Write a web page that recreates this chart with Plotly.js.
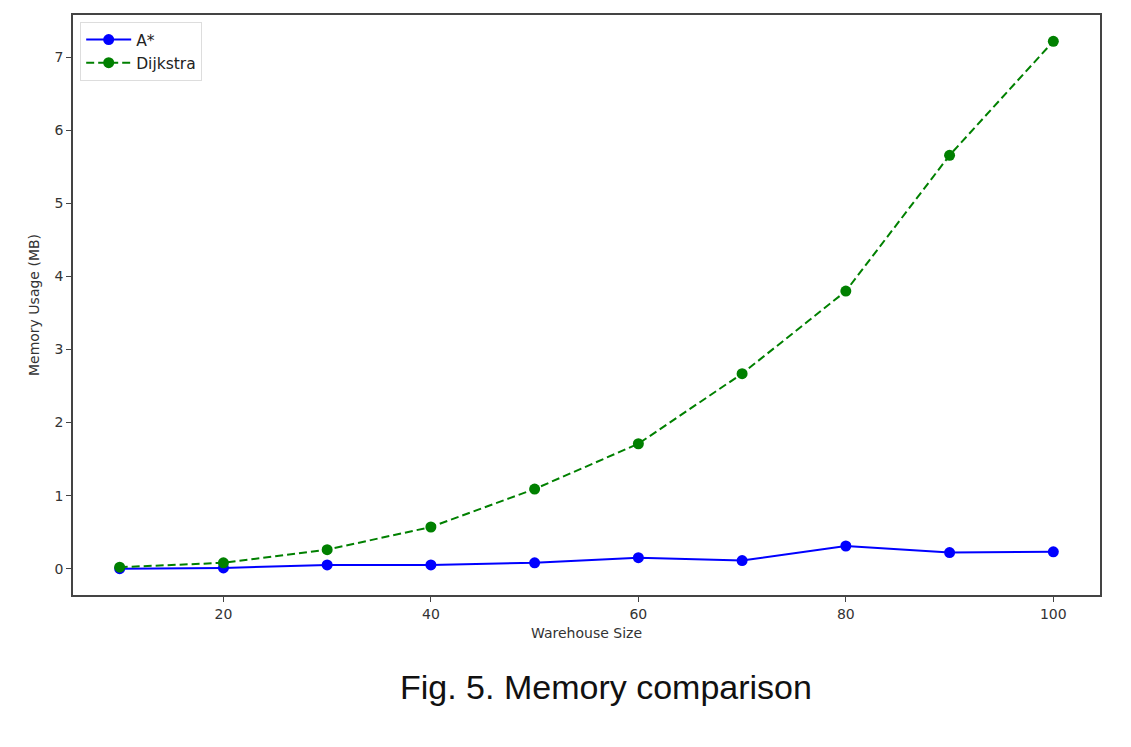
<!DOCTYPE html>
<html>
<head>
<meta charset="utf-8">
<script src="https://cdn.plot.ly/plotly-3.0.1.min.js"></script>
<style>html,body{margin:0;padding:0;background:#fff;}#chart{width:1131px;height:747px;}</style>
</head>
<body>
<div id="chart"></div>
<script>
const warehouseSizes = [10, 20, 30, 40, 50, 60, 70, 80, 90, 100];
const astarMemory = [0.00, 0.01, 0.05, 0.05, 0.08, 0.15, 0.11, 0.31, 0.22, 0.23];
const dijkstraMemory = [0.02, 0.08, 0.26, 0.57, 1.09, 1.71, 2.67, 3.80, 5.66, 7.22];
const xTicks = [20, 40, 60, 80, 100];
const yTicks = [0, 1, 2, 3, 4, 5, 6, 7];

const traces = [
  {x: warehouseSizes, y: astarMemory, name: 'A*', mode: 'lines+markers',
   line: {color: '#0000ff', width: 2}, marker: {color: '#0000ff', size: 11}},
  {x: warehouseSizes, y: dijkstraMemory, name: 'Dijkstra', mode: 'lines+markers',
   line: {color: '#008000', width: 2, dash: '8px,4px'}, marker: {color: '#008000', size: 11}}
];

const axisFont = {family: 'DejaVu Sans', size: 14, color: '#333'};
const layout = {
  width: 1131, height: 747,
  margin: {l: 73, r: 31, t: 15, b: 152},
  paper_bgcolor: '#fff', plot_bgcolor: '#fff',
  showlegend: true,
  legend: {x: 0.007, y: 0.988, xanchor: 'left', yanchor: 'top',
    bgcolor: 'rgba(255,255,255,0.8)', bordercolor: '#ddd', borderwidth: 1,
    font: {family: 'DejaVu Sans', size: 15.5, color: '#222'}, tracegroupgap: 0, itemwidth: 45},
  xaxis: {range: [5.5, 104.5], tickvals: xTicks, ticktext: xTicks.map(String),
    showgrid: false, zeroline: false, showline: true, mirror: true, linecolor: '#444', linewidth: 1.5,
    ticks: 'outside', ticklen: 5, tickcolor: '#444', tickfont: axisFont,
    title: {text: 'Warehouse Size', font: axisFont, standoff: 8}},
  yaxis: {range: [-0.361, 7.581], tickvals: yTicks, ticktext: yTicks.map(String),
    showgrid: false, zeroline: false, showline: true, mirror: true, linecolor: '#444', linewidth: 1.5,
    ticks: 'outside', ticklen: 5, tickcolor: '#444', tickfont: axisFont,
    title: {text: 'Memory Usage (MB)', font: axisFont, standoff: 12}},
  annotations: [{text: 'Fig. 5. Memory comparison', xref: 'paper', yref: 'paper',
    x: 0.519, y: -0.159, xanchor: 'center', yanchor: 'middle', showarrow: false,
    font: {family: 'Liberation Sans, Arial', size: 34, color: '#111'}}]
};
Plotly.newPlot('chart', traces, layout, {displayModeBar: false});
</script>
</body>
</html>
